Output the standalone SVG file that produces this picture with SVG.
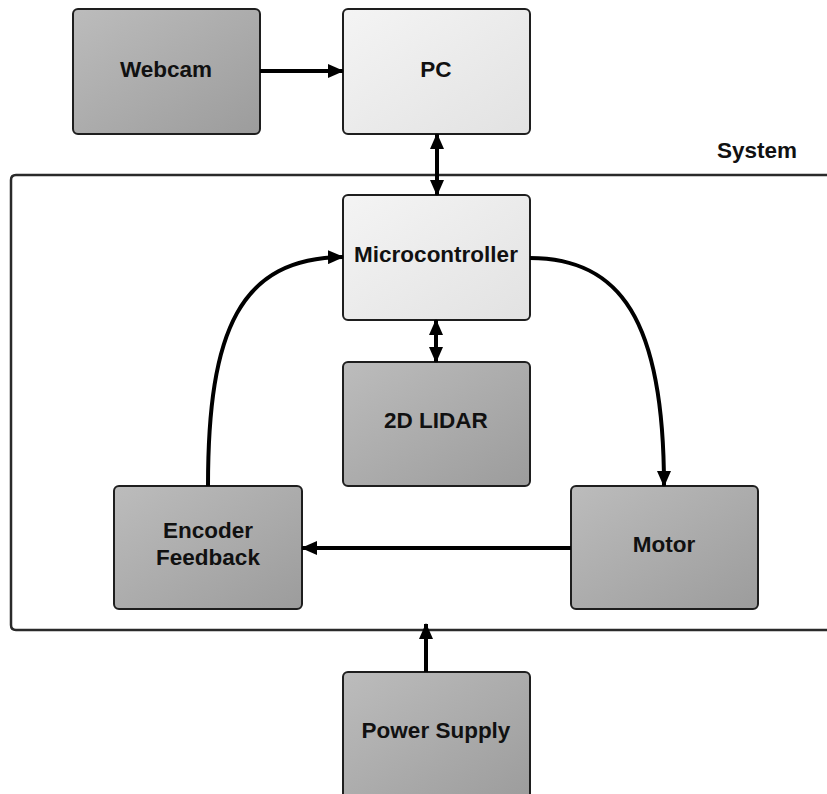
<svg xmlns="http://www.w3.org/2000/svg" width="827" height="794" viewBox="0 0 827 794">
<style>
.box{stroke:#1e1e1e;stroke-width:2}
.light{fill:url(#gl)}
.dark{fill:url(#gd)}
.lbl{font-family:"Liberation Sans",Arial,sans-serif;font-weight:bold;font-size:22.5px;fill:#111;text-anchor:middle}
.conn{fill:none;stroke:#000;stroke-width:4}
</style>
<defs>
<linearGradient id="gl" x1="0" y1="0" x2="1" y2="1">
<stop offset="0" stop-color="#f4f4f4"/>
<stop offset="1" stop-color="#e2e2e2"/>
</linearGradient>
<linearGradient id="gd" x1="0" y1="0" x2="1" y2="1">
<stop offset="0" stop-color="#bcbcbc"/>
<stop offset="1" stop-color="#9c9c9c"/>
</linearGradient>
<marker id="ah" viewBox="0 0 16 14" markerUnits="userSpaceOnUse" markerWidth="16" markerHeight="14" refX="15" refY="7" orient="auto-start-reverse">
<path d="M0,0 L16,7 L0,14 z" fill="#000"/>
</marker>
</defs>

<g id="system">
<path d="M827,175 H16 Q11,175 11,180 V625 Q11,630 16,630 H827" fill="none" stroke="#2a2a2a" stroke-width="2.5"/>
<text class="lbl" x="757" y="158">System</text>
</g>

<g id="webcam">
<rect class="box dark" x="73" y="9" width="187" height="125" rx="5"/>
<text class="lbl" x="166" y="77">Webcam</text>
</g>
<g id="pc">
<rect class="box light" x="343" y="9" width="187" height="125" rx="5"/>
<text class="lbl" x="436" y="77">PC</text>
</g>
<g id="microcontroller">
<rect class="box light" x="343" y="195" width="187" height="125" rx="5"/>
<text class="lbl" x="436" y="262">Microcontroller</text>
</g>
<g id="lidar">
<rect class="box dark" x="343" y="362" width="187" height="124" rx="5"/>
<text class="lbl" x="436" y="428">2D LIDAR</text>
</g>
<g id="encoder">
<rect class="box dark" x="114" y="486" width="188" height="123" rx="5"/>
<text class="lbl" x="208" y="538">Encoder</text>
<text class="lbl" x="208" y="565">Feedback</text>
</g>
<g id="motor">
<rect class="box dark" x="571" y="486" width="187" height="123" rx="5"/>
<text class="lbl" x="664" y="552">Motor</text>
</g>
<g id="power">
<rect class="box dark" x="343" y="672" width="187" height="130" rx="5"/>
<text class="lbl" x="436" y="738">Power Supply</text>
</g>

<g id="connectors">
<line class="conn" x1="260" y1="71" x2="343" y2="71" marker-end="url(#ah)"/>
<line class="conn" x1="437" y1="134" x2="437" y2="195" marker-start="url(#ah)" marker-end="url(#ah)"/>
<line class="conn" x1="436" y1="320" x2="436" y2="362" marker-start="url(#ah)" marker-end="url(#ah)"/>
<path class="conn" d="M208,486 C208,330 240,258 343,257" marker-end="url(#ah)"/>
<path class="conn" d="M530,258 C620,258 664,320 664,486" marker-end="url(#ah)"/>
<line class="conn" x1="571" y1="548" x2="302" y2="548" marker-end="url(#ah)"/>
<line class="conn" x1="426" y1="672" x2="426" y2="624" marker-end="url(#ah)"/>
</g>
</svg>
